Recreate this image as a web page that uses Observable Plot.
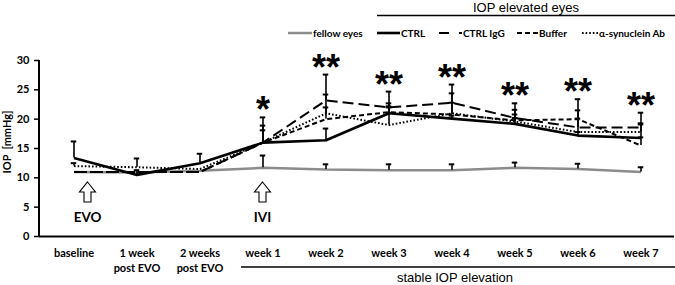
<!DOCTYPE html>
<html><head><meta charset="utf-8">
<script src="https://cdn.jsdelivr.net/npm/d3@7"></script>
<script src="https://cdn.jsdelivr.net/npm/@observablehq/plot@0.6"></script>
<style>
body{margin:0;background:#fff;}
#chart{width:675px;height:285px;overflow:hidden;}
svg{display:block;}
</style></head><body><div id="chart"></div>
<script>
// ---- data ----
const categories = ["baseline","1 week post EVO","2 weeks post EVO","week 1","week 2","week 3","week 4","week 5","week 6","week 7"];
const tickLabels = ["baseline","1 week\npost EVO","2 weeks\npost EVO","week 1","week 2","week 3","week 4","week 5","week 6","week 7"];
const yTicks = [0,5,10,15,20,25,30];
const seriesNames = ["fellow eyes","CTRL","CTRL IgG","Buffer","α-synuclein Ab"];
const fellowEyes   = [11.0,10.9,11.2,11.7,11.4,11.3,11.3,11.7,11.5,11.0];
const ctrl         = [13.4,10.5,12.5,16.0,16.4,21.0,20.1,19.2,17.2,16.8];
const ctrlIgG      = [11.0,11.0,11.0,16.0,23.2,22.0,22.8,20.2,18.6,18.6];
const buffer       = [11.0,11.0,11.0,16.0,20.0,21.2,20.8,19.8,20.0,15.5];
const alphaSyn     = [12.0,11.8,11.5,16.0,21.0,19.0,21.0,19.6,17.8,17.8];
const fellowErr    = [0,0,0,2.1,0.9,1.0,1.0,0.9,0.9,0.8];
const ctrlErr      = [2.8,0.8,1.6,0,2.0,1.0,0.5,1.0,0.6,2.5];
const ctrlIgGErr   = [0,0,0,4.3,4.4,2.7,3.1,1.4,2.9,2.5];
const bufferErr    = [0,0,0,2.1,2.0,1.0,2.0,2.9,3.4,1.4];
const alphaSynErr  = [0.5,1.5,0,2.9,3.2,3.7,3.4,1.2,2.3,1.3];
const significance = ["","","","*","**","**","**","**","**","**"];
const interventions = [{cat:"baseline", label:"EVO"}, {cat:"week 1", label:"IVI"}];

// ---- build table ----
const values = [fellowEyes, ctrl, ctrlIgG, buffer, alphaSyn];
const errs = [fellowErr, ctrlErr, ctrlIgGErr, bufferErr, alphaSynErr];
const rows = [];
seriesNames.forEach((s, si) => categories.forEach((c, i) => rows.push({series: s, cat: c, value: values[si][i], err: errs[si][i]})));
const tops = categories.map((c, i) => d3.max(values.slice(1), (v, k) => v[i] + errs[k + 1][i]));
const starRows = categories.map((c, i) => ({cat: c, label: significance[i], top: tops[i]})).filter(d => d.label);

const styles = {
  "fellow eyes":    {stroke: "#8c8c8c", strokeWidth: 2.5, dash: null},
  "CTRL":           {stroke: "#000", strokeWidth: 2.6, dash: null},
  "CTRL IgG":       {stroke: "#000", strokeWidth: 2, dash: "11,5"},
  "Buffer":         {stroke: "#000", strokeWidth: 2, dash: "5,3"},
  "α-synuclein Ab": {stroke: "#000", strokeWidth: 2, dash: "1.6,2"}
};

const W = 675, H = 285, ML = 39, MR = 1, MT = 60, MB = 49;
const bw = (W - ML - MR) / categories.length;
const FONT = "Lato, 'Open Sans', sans-serif";
const ARIAL = "'Liberation Sans', Arial, sans-serif";

const marks = [];
seriesNames.forEach(s => {
  const st = styles[s];
  marks.push(Plot.line(rows.filter(d => d.series === s), {x: "cat", y: "value", stroke: st.stroke, strokeWidth: st.strokeWidth, strokeDasharray: st.dash, strokeLinejoin: "miter", strokeLinecap: "butt"}));
});
const errRows = rows.filter(d => d.err > 0);
marks.push(Plot.ruleX(errRows, {x: "cat", y1: "value", y2: d => d.value + d.err, stroke: "#000", strokeWidth: 1.6}));
marks.push(Plot.tickY(errRows, {x: "cat", y: d => d.value + d.err, stroke: "#000", strokeWidth: 2, insetLeft: (bw - 6) / 2, insetRight: (bw - 6) / 2}));
marks.push(Plot.text(starRows, {x: "cat", y: "top", text: "label", lineAnchor: "bottom", dy: 5, fontSize: 36, fontWeight: "bold", fontFamily: ARIAL, fill: "#000", letterSpacing: -1}));
marks.push(Plot.ruleY([0], {stroke: "#000", strokeWidth: 2}));
marks.push(Plot.axisY({ticks: yTicks, tickSize: 5, tickPadding: 5, fontSize: 11, fontWeight: "bold", fontFamily: FONT, label: null, stroke: "#000", strokeWidth: 1.5}));
marks.push(Plot.axisX({tickSize: 0, tickPadding: 10, fontSize: 11, fontWeight: "bold", fontFamily: FONT, lineHeight: 1.35, label: null, tickFormat: (d, i) => tickLabels[categories.indexOf(d)]}));

const svg = Plot.plot({
  width: W, height: H, marginLeft: ML, marginRight: MR, marginTop: MT, marginBottom: MB,
  style: {fontFamily: FONT, color: "#000", background: "#fff"},
  x: {type: "band", domain: categories, padding: 0},
  y: {domain: [0, 30]},
  marks
});
document.getElementById("chart").appendChild(svg);

// ---- annotations using the plot's scales ----
const xs = svg.scale("x"), ys = svg.scale("y");
const cx = c => xs.apply(c) + xs.bandwidth / 2;
const g = d3.select(svg).append("g").attr("text-anchor", "start");

// y-axis line
g.append("line").attr("x1", ML).attr("x2", ML).attr("y1", ys.apply(30)).attr("y2", ys.apply(0)).attr("stroke", "#000").attr("stroke-width", 2);
// y label
g.append("text").attr("transform", `translate(11,${(ys.apply(30) + ys.apply(0)) / 2 - 6}) rotate(-90)`)
  .attr("text-anchor", "middle").attr("font-family", FONT).attr("font-weight", "bold").attr("font-size", 11).attr("fill", "#000")
  .text("IOP  [mmHg]");

// arrows and labels
interventions.forEach((d, i) => {
  const x0 = cx(d.cat) + (i === 0 ? 14 : 0), t = 182;
  const p = `M${x0},${t} L${x0 + 8},${t + 10} L${x0 + 3.5},${t + 10} L${x0 + 3.5},${t + 20} L${x0 - 3.5},${t + 20} L${x0 - 3.5},${t + 10} L${x0 - 8},${t + 10} Z`;
  g.append("path").attr("d", p).attr("fill", "#fff").attr("stroke", "#000").attr("stroke-width", 1.1).attr("stroke-linejoin", "miter");
  g.append("text").attr("x", x0).attr("y", 222).attr("text-anchor", "middle").attr("font-family", FONT).attr("font-weight", "bold").attr("font-size", 13.5).attr("fill", "#000").text(d.label);
});

// bottom bracket
const stableStart = xs.apply("week 1") + 10;
g.append("line").attr("x1", stableStart).attr("x2", W).attr("y1", 267).attr("y2", 267).attr("stroke", "#000").attr("stroke-width", 1.6);
g.append("text").attr("x", 455).attr("y", 282).attr("text-anchor", "middle").attr("font-family", ARIAL).attr("font-size", 13).attr("fill", "#000").text("stable IOP elevation");

// top header
g.append("text").attr("x", 526).attr("y", 12).attr("text-anchor", "middle").attr("font-family", ARIAL).attr("font-size", 13).attr("fill", "#000").text("IOP elevated eyes");
g.append("line").attr("x1", 377).attr("x2", W).attr("y1", 15.5).attr("y2", 15.5).attr("stroke", "#000").attr("stroke-width", 1.6);

// legend
const legendX = [[288, 312], [377, 400], [439, 462], [517, 538], [582, 598]];
seriesNames.forEach((s, i) => {
  const st = styles[s];
  const [a, b] = legendX[i];
  const ly = 33;
  if (s === "CTRL IgG") {
    g.append("line").attr("x1", a).attr("x2", a + 10).attr("y1", ly).attr("y2", ly).attr("stroke", "#000").attr("stroke-width", 2);
    g.append("line").attr("x1", a + 20).attr("x2", a + 23).attr("y1", ly).attr("y2", ly).attr("stroke", "#000").attr("stroke-width", 2);
  } else {
    g.append("line").attr("x1", a).attr("x2", b).attr("y1", ly).attr("y2", ly).attr("stroke", st.stroke).attr("stroke-width", st.strokeWidth).attr("stroke-dasharray", st.dash);
  }
  g.append("text").attr("x", b + 1).attr("y", ly + 3.5).attr("text-anchor", "start").attr("font-family", FONT).attr("font-weight", "bold").attr("font-size", 10).attr("fill", "#000").text(s);
});
</script></body></html>
